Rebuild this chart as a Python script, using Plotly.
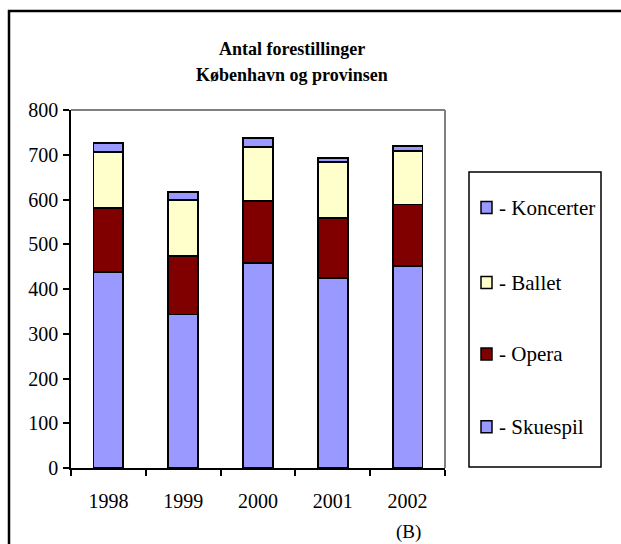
import plotly.graph_objects as go

years = ["1998", "1999", "2000", "2001", "2002"]
skuespil = [438, 343, 459, 424, 451]
opera = [143, 130, 138, 134, 138]
ballet = [125, 125, 120, 125, 120]
koncerter = [20, 18, 20, 9, 10]

series = [
    ("- Skuespil", skuespil, "#9999FF"),
    ("- Opera", opera, "#800000"),
    ("- Ballet", ballet, "#FFFFCC"),
    ("- Koncerter", koncerter, "#9999FF"),
]

FONT = "Liberation Serif, Times New Roman, serif"

fig = go.Figure()
for name, vals, col in series:
    fig.add_trace(go.Bar(
        x=years, y=vals, name=name,
        marker=dict(color=col, line=dict(color="black", width=1.8)),
        width=0.4,
    ))

W, H = 621, 544
L, R, T, B = 71, 445, 110, 468
pw, ph = R - L, B - T

def px(x):
    return (x - L) / pw

def py(y):
    return (B - y) / ph

shapes = [
    dict(type="line", xref="paper", yref="paper", x0=0, x1=1, y0=1, y1=1,
         line=dict(color="#808080", width=2)),
    dict(type="line", xref="paper", yref="paper", x0=1, x1=1, y0=0, y1=1,
         line=dict(color="#808080", width=2)),
    dict(type="rect", xref="paper", yref="paper",
         x0=px(469), x1=px(601), y0=py(467), y1=py(172),
         line=dict(color="black", width=1.5)),
    dict(type="rect", xref="paper", yref="paper",
         x0=px(9), x1=px(640), y0=py(570), y1=py(11),
         line=dict(color="black", width=2.5)),
]

annotations = [
    dict(text="<b>Antal forestillinger</b>", xref="paper", yref="paper",
         x=px(292), y=py(49), xanchor="center", yanchor="middle", showarrow=False,
         font=dict(family=FONT, size=18, color="black")),
    dict(text="<b>København og provinsen</b>", xref="paper", yref="paper",
         x=px(292), y=py(75), xanchor="center", yanchor="middle", showarrow=False,
         font=dict(family=FONT, size=18, color="black")),
    dict(text="(B)", xref="paper", yref="paper",
         x=px(408), y=py(532), xanchor="center", yanchor="middle", showarrow=False,
         font=dict(family=FONT, size=19, color="black")),
]

# legend (Koncerter on top), drawn as boxed key
legend_rows = [207.5, 282.5, 354, 426.7]
for (name, vals, col), ry in zip(reversed(series), legend_rows):
    shapes.append(dict(type="rect", xref="paper", yref="paper",
                       x0=px(481), x1=px(492), y0=py(ry + 6), y1=py(ry - 6),
                       fillcolor=col, line=dict(color="black", width=1.5)))
    annotations.append(dict(text=name, xref="paper", yref="paper",
                            x=px(497), y=py(ry), xanchor="left", yanchor="middle",
                            showarrow=False,
                            font=dict(family=FONT, size=21, color="black")))

fig.update_layout(
    width=W, height=H,
    margin=dict(l=L, r=W - R, t=T, b=H - B, pad=0),
    barmode="stack",
    plot_bgcolor="white", paper_bgcolor="white",
    font=dict(family=FONT, size=20, color="black"),
    showlegend=False,
    xaxis=dict(
        showline=True, linecolor="black", linewidth=1.5,
        ticks="outside", tickson="boundaries", ticklen=6, tickcolor="black", tickwidth=1.5,
        ticklabelstandoff=14, showgrid=False,
    ),
    yaxis=dict(
        range=[0, 800], dtick=100, showline=True, linecolor="black", linewidth=1.5,
        ticks="outside", ticklen=6, tickcolor="black", tickwidth=1.5,
        ticklabelstandoff=1, showgrid=False, zeroline=False,
    ),
    shapes=shapes,
    annotations=annotations,
)

fig.write_html("out.html", config={"displayModeBar": False},
               post_script="document.body.style.margin='0';document.body.style.overflow='hidden';")
